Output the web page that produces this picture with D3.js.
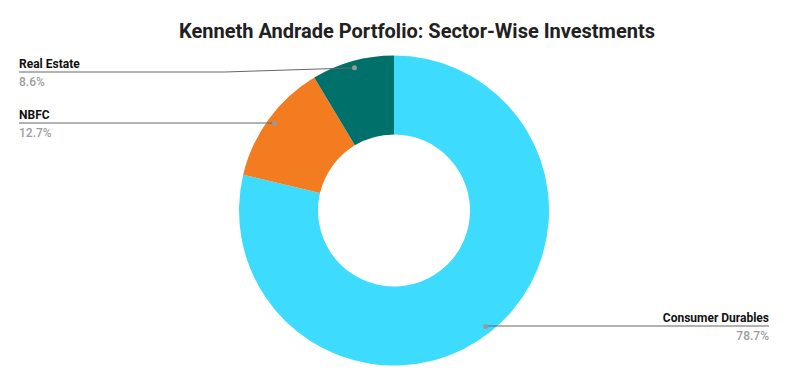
<!DOCTYPE html>
<html><head><meta charset="utf-8">
<script src="https://cdn.jsdelivr.net/npm/d3@7"></script>
<style>body{margin:0;background:#fff}svg{display:block;font-family:Roboto,sans-serif}</style>
</head><body>
<svg id="c" width="788" height="385"></svg>
<script>
const title = "Kenneth Andrade Portfolio: Sector-Wise Investments";
const categories = ["Consumer Durables", "NBFC", "Real Estate"];
const values = [78.7, 12.7, 8.6];
const colors = ["#3ddcfe", "#f37b20", "#00706a"];
const labelSide = ["right", "left", "left"];
const labelLineY = [326, 123, 72];

const svg = d3.select("#c");
const cx = 394, cy = 210.5, rOuter = 155, rInner = 76, rDot = 148;

svg.append("text").attr("x", 417).attr("y", 38).attr("text-anchor", "middle")
  .attr("font-size", 20).attr("font-weight", "bold").attr("fill", "#212121").text(title);

const pie = d3.pie().sort(null).value(d => d)(values);
const arc = d3.arc().innerRadius(rInner).outerRadius(rOuter);
const g = svg.append("g").attr("transform", `translate(${cx},${cy})`);
g.selectAll("path").data(pie).join("path").attr("d", arc).attr("fill", (d, i) => colors[i]);

const dotArc = d3.arc().innerRadius(rDot).outerRadius(rDot);
pie.forEach((d, i) => {
  const [dx, dy] = dotArc.centroid(d);
  const px = cx + dx, py = cy + dy;
  const ly = labelLineY[i];
  let pts;
  if (labelSide[i] === "left") {
    const elbow = Math.abs(py - ly) > 1.5 ? px - 130 : px;
    pts = [[19, ly], [elbow, ly], [px, py]];
  } else {
    pts = [[769, ly], [px, ly], [px, py]];
  }
  svg.append("path").attr("d", d3.line()(pts)).attr("fill", "none").attr("stroke", "#666").attr("stroke-width", 1);
  svg.append("circle").attr("cx", px).attr("cy", py).attr("r", 2.5).attr("fill", "#999");
  const x = labelSide[i] === "left" ? 19 : 769;
  const anchor = labelSide[i] === "left" ? "start" : "end";
  svg.append("text").attr("x", x).attr("y", ly - 4).attr("text-anchor", anchor)
    .attr("font-size", 12).attr("font-weight", "bold").attr("fill", "#111").text(categories[i]);
  svg.append("text").attr("x", x).attr("y", ly + 14).attr("text-anchor", anchor)
    .attr("font-size", 12).attr("font-weight", 500).attr("fill", "#9e9e9e").text(values[i].toFixed(1) + "%");
});
</script>
</body></html>
